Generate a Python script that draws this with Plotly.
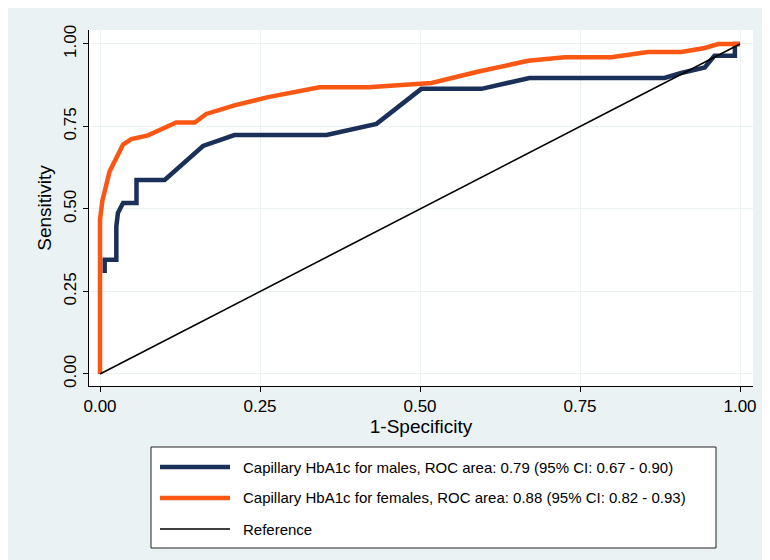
import plotly.graph_objects as go

# ---------------- data ----------------
male_fpr = [0.0073, 0.0073, 0.0255, 0.0255, 0.028, 0.036, 0.057, 0.057, 0.101, 0.161,
            0.210, 0.354, 0.432, 0.502, 0.596, 0.671, 0.882, 0.908, 0.945, 0.960,
            0.992, 0.992, 1.0]
male_tpr = [0.306, 0.346, 0.346, 0.447, 0.488, 0.518, 0.518, 0.588, 0.588, 0.691,
            0.724, 0.724, 0.758, 0.864, 0.864, 0.897, 0.897, 0.912, 0.929, 0.964,
            0.964, 1.0, 1.0]

female_fpr = [0.0, 0.0, 0.0036, 0.015, 0.036, 0.049, 0.075, 0.096, 0.119, 0.148,
              0.166, 0.210, 0.2625, 0.343, 0.419, 0.518, 0.590, 0.669, 0.726, 0.799,
              0.856, 0.908, 0.945, 0.966, 1.0]
female_tpr = [0.0, 0.467, 0.524, 0.614, 0.695, 0.712, 0.723, 0.740, 0.762, 0.762,
              0.788, 0.814, 0.839, 0.869, 0.869, 0.882, 0.916, 0.949, 0.960, 0.960,
              0.976, 0.976, 0.988, 1.0, 1.0]

ref_x = [0.0, 1.0]
ref_y = [0.0, 1.0]

series_names = [
    "Capillary HbA1c for males, ROC area: 0.79 (95% CI: 0.67 - 0.90)",
    "Capillary HbA1c for females, ROC area: 0.88 (95% CI: 0.82 - 0.93)",
    "Reference",
]
tick_vals = [0.0, 0.25, 0.5, 0.75, 1.0]
tick_text = ["0.00", "0.25", "0.50", "0.75", "1.00"]
x_title = "1-Specificity"
y_title = "Sensitivity"

# ---------------- style ----------------
W, H = 770, 560
ML, MR, MT, MB = 81, 25, 22, 182
BG = "#eaf2f3"
NAVY = "#1b3058"
ORANGE = "#fb5714"
FONT = "Liberation Sans, Arial, sans-serif"
colors = [NAVY, ORANGE, "black"]
widths = [4.5, 4.5, 1.6]

fig = go.Figure()
for xs, ys, name, c, w in zip([male_fpr, female_fpr, ref_x],
                              [male_tpr, female_tpr, ref_y],
                              series_names, colors, widths):
    fig.add_trace(go.Scatter(x=xs, y=ys, mode="lines", name=name,
                             line=dict(color=c, width=w), showlegend=False))

# ---------------- custom legend box (Stata-like long keys) ----------------
pw, ph = W - ML - MR, H - MT - MB

def px(xp):
    return (xp - ML) / pw

def py(yp):
    return (H - MB - yp) / ph

box_l, box_r, box_t, box_b = 143, 708, 439, 540
shapes = [dict(type="rect", xref="paper", yref="paper",
               x0=px(box_l), x1=px(box_r), y0=py(box_b), y1=py(box_t),
               fillcolor="white", line=dict(color="#222222", width=1), layer="below")]
annotations = []
row_y = [459, 490, 521]
for name, c, w, ry in zip(series_names, colors, widths, row_y):
    shapes.append(dict(type="line", xref="paper", yref="paper",
                       x0=px(152), x1=px(222), y0=py(ry), y1=py(ry),
                       line=dict(color=c, width=w)))
    annotations.append(dict(xref="paper", yref="paper", x=px(233), y=py(ry),
                            text=name, showarrow=False, xanchor="left",
                            yanchor="middle", font=dict(size=15, color="black",
                                                        family=FONT)))

axis_common = dict(
    tickvals=tick_vals, ticktext=tick_text, ticks="outside", ticklen=5,
    tickcolor="black", tickwidth=1, showline=True, linecolor="black", linewidth=1,
    showgrid=True, gridcolor=BG, gridwidth=1, zeroline=False,
    tickfont=dict(size=17, color="black", family=FONT), automargin=False,
)

fig.update_layout(
    width=W, height=H,
    margin=dict(l=ML, r=MR, t=MT, b=MB, pad=0),
    paper_bgcolor=BG, plot_bgcolor="white",
    font=dict(family=FONT, color="black"),
    shapes=shapes, annotations=annotations,
    xaxis=dict(range=[-0.0172, 1.0203],
               title=dict(text=x_title, font=dict(size=19), standoff=2),
               **axis_common),
    yaxis=dict(range=[-0.0364, 1.0424], tickangle=-90,
               title=dict(text=y_title, font=dict(size=19), standoff=4),
               **axis_common),
)

fig.write_html("out.html")
